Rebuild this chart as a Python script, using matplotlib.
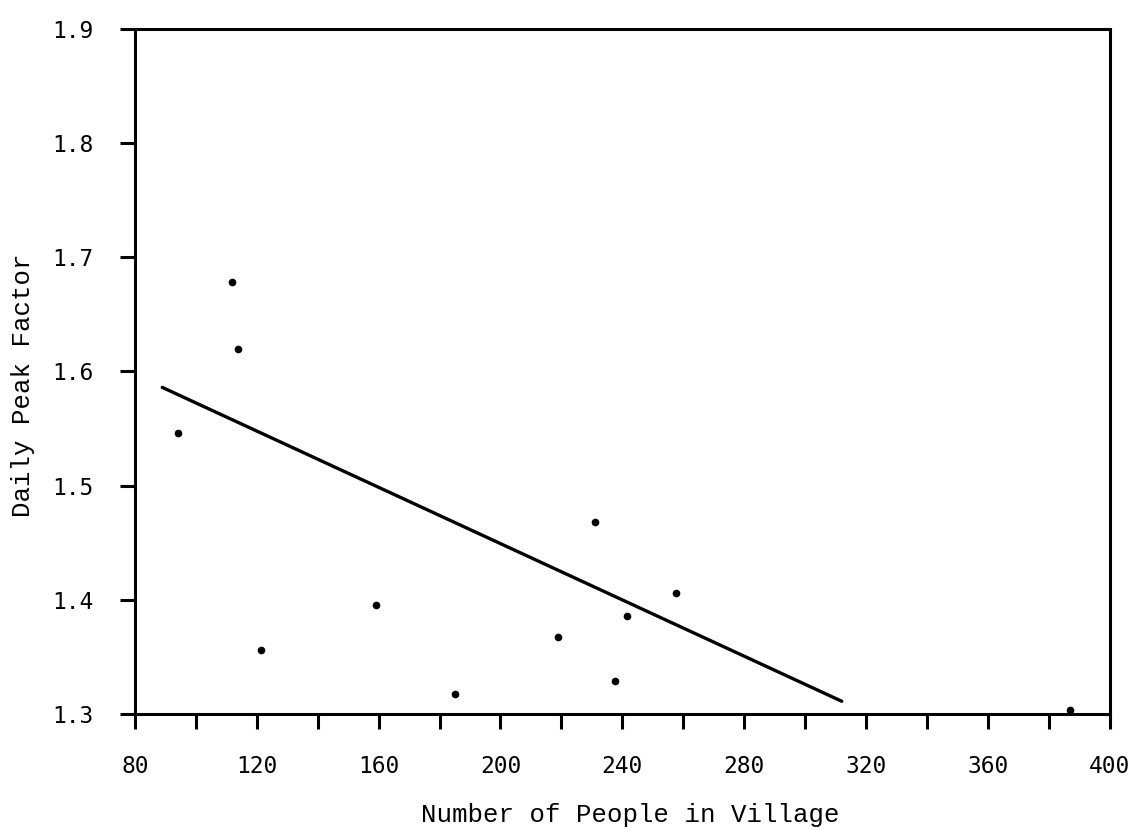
import numpy as np
import matplotlib.pyplot as plt

# village size vs daily peak factor
people = [94, 112, 114, 121.5, 159, 185, 219, 231, 237.5, 241.5, 257.5, 387]
peak_factor = [1.546, 1.678, 1.620, 1.356, 1.395, 1.317, 1.367, 1.468, 1.329, 1.386, 1.406, 1.303]

# hand-drawn trend line end points
fit_x = [89, 312]
fit_y = [1.586, 1.311]

x_ticks = np.arange(80, 401, 20)
x_labels = [str(v) if v % 40 == 0 else '' for v in x_ticks]
y_ticks = [1.3, 1.4, 1.5, 1.6, 1.7, 1.8, 1.9]
y_labels = ['1.3', '1.4', '1.5', '1.6', '1.7', '1.8', '1.9']

fig = plt.figure(figsize=(11.43, 8.3), dpi=100)
ax = fig.add_axes([0.118, 0.140, 0.853, 0.825])

ax.plot(fit_x, fit_y, color='black', linewidth=2.4, solid_capstyle='round')
ax.plot(people, peak_factor, 'o', color='black', markersize=4.5)

ax.set_xlim(80, 400)
ax.set_ylim(1.3, 1.9)
ax.set_xticks(x_ticks)
ax.set_xticklabels(x_labels)
ax.set_yticks(y_ticks)
ax.set_yticklabels(y_labels)

tick_font = {'family': 'DejaVu Sans Mono', 'size': 16.5}
for lab in ax.get_xticklabels() + ax.get_yticklabels():
    lab.set_fontfamily(tick_font['family'])
    lab.set_fontsize(tick_font['size'])

ax.tick_params(direction='out', length=11, width=2.2, pad=19, colors='black')
for s in ax.spines.values():
    s.set_linewidth(2.2)
    s.set_color('black')

label_font = {'family': 'Liberation Mono', 'size': 18.5}
fig.text(630 / 1143, 1 - 815 / 830, 'Number of People in Village', ha='center', va='center', **label_font)
fig.text(23 / 1143, 1 - 385 / 830, 'Daily Peak Factor', ha='center', va='center', rotation=90, **label_font)

fig.savefig('out.png', dpi=100)
